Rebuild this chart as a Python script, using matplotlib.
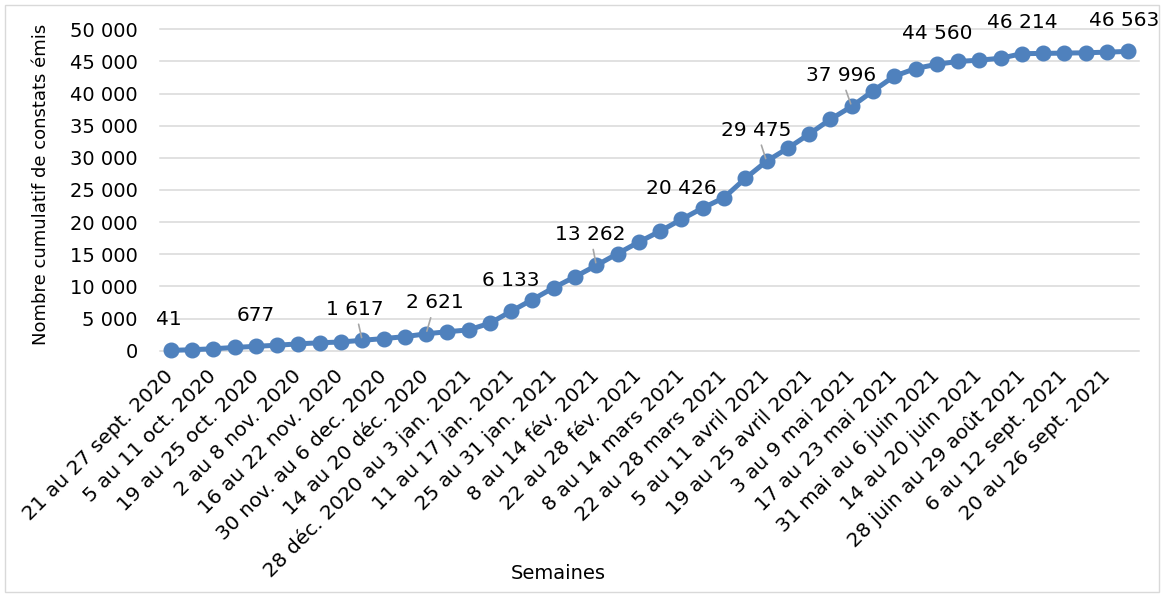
import matplotlib

matplotlib.use('Agg')
import matplotlib.pyplot as plt
from matplotlib.patches import Rectangle
from matplotlib.ticker import FuncFormatter, MultipleLocator

# semaines (46 points, une étiquette sur deux affichée)
semaines = [
    "21 au 27 sept. 2020", "28 sept. au 4 oct. 2020", "5 au 11 oct. 2020",
    "12 au 18 oct. 2020", "19 au 25 oct. 2020", "26 oct. au 1 nov. 2020",
    "2 au 8 nov. 2020", "9 au 15 nov. 2020", "16 au 22 nov. 2020",
    "23 au 29 nov. 2020", "30 nov. au 6 dec. 2020", "7 au 13 déc. 2020",
    "14 au 20 déc. 2020", "21 au 27 déc. 2020", "28 déc. 2020 au 3 jan. 2021",
    "4 au 10 jan. 2021", "11 au 17 jan. 2021", "18 au 24 jan. 2021",
    "25 au 31 jan. 2021", "1 au 7 fév. 2021", "8 au 14 fév. 2021",
    "15 au 21 fév. 2021", "22 au 28 fév. 2021", "1 au 7 mars 2021",
    "8 au 14 mars 2021", "15 au 21 mars 2021", "22 au 28 mars 2021",
    "29 mars au 4 avril 2021", "5 au 11 avril 2021", "12 au 18 avril 2021",
    "19 au 25 avril 2021", "26 avril au 2 mai 2021", "3 au 9 mai 2021",
    "10 au 16 mai 2021", "17 au 23 mai 2021", "24 au 30 mai 2021",
    "31 mai au 6 juin 2021", "7 au 13 juin 2021", "14 au 20 juin 2021",
    "21 au 27 juin 2021", "28 juin au 29 août 2021", "30 août au 5 sept. 2021",
    "6 au 12 sept. 2021", "13 au 19 sept. 2021", "20 au 26 sept. 2021",
    "27 sept. au 3 oct. 2021",
]

constats = [
    41, 150, 300, 500, 677, 850, 1060, 1230, 1350, 1617,
    1880, 2180, 2621, 2950, 3230, 4280, 6133, 7950, 9800, 11500,
    13262, 15100, 16900, 18600, 20426, 22200, 23800, 26800, 29475, 31500,
    33700, 36000, 37996, 40400, 42700, 43900, 44560, 45000, 45200, 45500,
    46214, 46250, 46300, 46350, 46450, 46563,
]

# points étiquetés : (index, décalage x en px, avec ligne de repère)
etiquettes = [(0, -2, False), (4, 0, False), (9, -7, True), (12, 9, True),
              (16, 0, False), (20, -6, True), (24, 0, False), (28, -10, True),
              (32, -11, True), (36, 0, False), (40, 0, False), (45, -4, False)]

BLEU = '#4F81BD'
GRIS = '#D9D9D9'


def milliers(v, pos=None):
    return f"{int(v):,}".replace(",", " ")


plt.rcParams['font.family'] = ['DejaVu Sans']

fig = plt.figure(figsize=(11.64, 5.97), dpi=100)
ax = fig.add_axes([0.1375, 0.4126, 0.841, 0.5383])

x = list(range(len(constats)))
ax.plot(x, constats, color=BLEU, lw=3.6, marker='o', markersize=10.5,
        clip_on=False, zorder=3)

ax.set_xlim(-0.5, len(constats) - 0.5)
ax.set_ylim(0, 50000)
ax.yaxis.set_major_locator(MultipleLocator(5000))
ax.yaxis.set_major_formatter(FuncFormatter(milliers))
ax.grid(axis='y', color=GRIS, lw=1.1)
for gl in ax.get_ygridlines():
    gl.set_clip_on(False)
ax.set_axisbelow(True)
for s in ax.spines.values():
    s.set_visible(False)

ax.set_xticks(x[::2])
ax.set_xticklabels(semaines[::2], rotation=45, ha='right', va='center',
                   rotation_mode='anchor', fontsize=14.5)
ax.tick_params(axis='x', length=0, pad=16)
ax.tick_params(axis='y', length=0, pad=16, labelsize=14)

ax.set_xlabel('Semaines', fontsize=14)
ax.xaxis.set_label_coords(0.4065, -0.692)
ax.xaxis.label.set_va('center')
ax.set_ylabel('Nombre cumulatif de constats émis', fontsize=13)
ax.yaxis.set_label_coords(-0.1215, 0.519)
ax.yaxis.label.set_va('center')

for i, dx, repere in etiquettes:
    props = None
    if repere:
        props = dict(arrowstyle='-', color='#A6A6A6', lw=1.2, shrinkA=2, shrinkB=2)
    ax.annotate(milliers(constats[i]), (i, constats[i]), xytext=(dx, 31),
                textcoords='offset pixels', ha='center', va='center',
                fontsize=14.5, arrowprops=props, annotation_clip=False, zorder=4)

fig.patches.append(Rectangle((0.004, 0.008), 0.992, 0.984, transform=fig.transFigure,
                             fill=False, ec=GRIS, lw=1))

plt.savefig('out.png', dpi=100)
plt.close()
